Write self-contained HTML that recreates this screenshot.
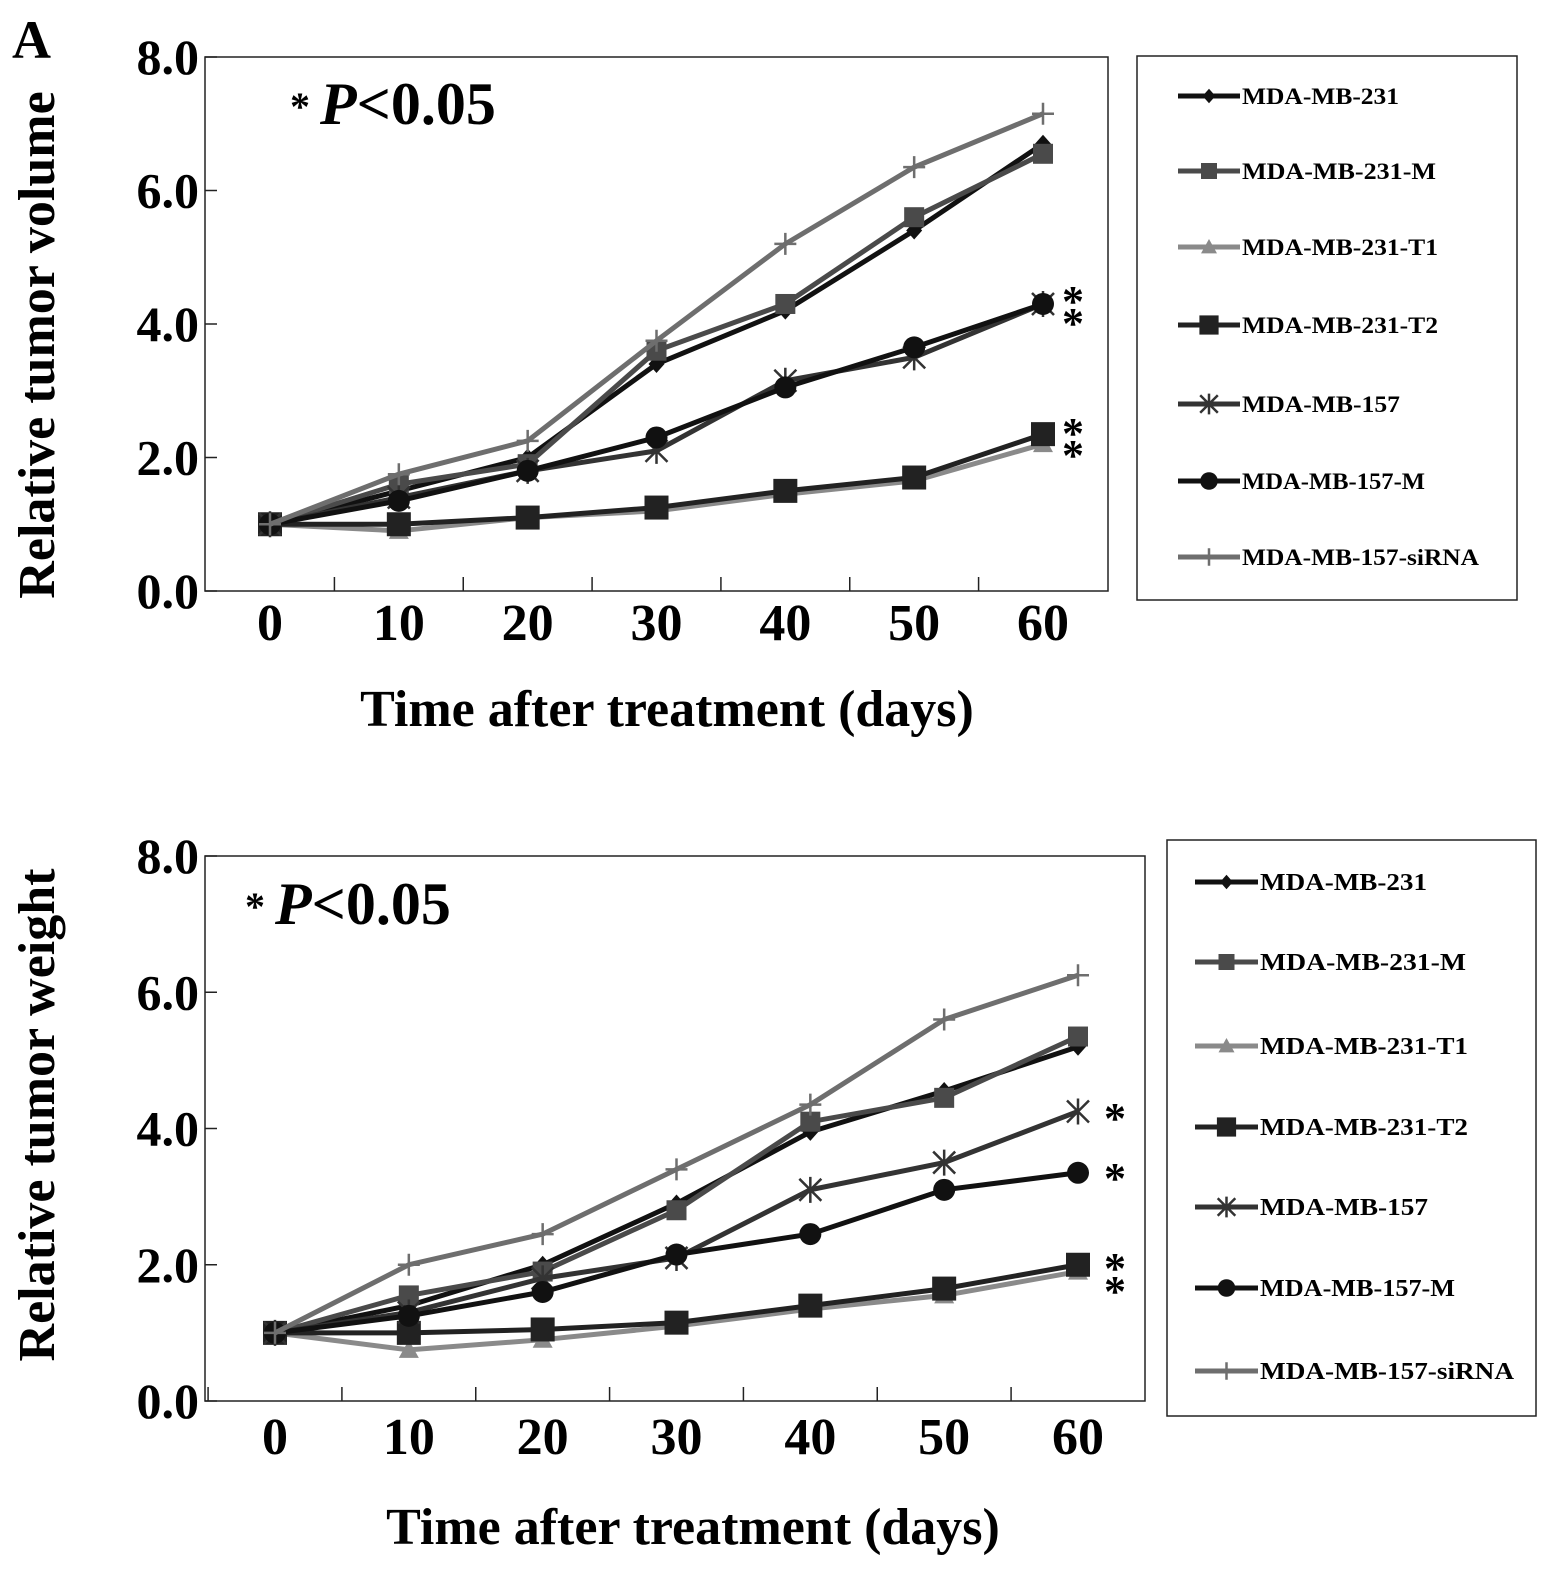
<!DOCTYPE html>
<html><head><meta charset="utf-8"><style>
html,body{margin:0;padding:0;background:#fff;}
svg{display:block;font-family:"Liberation Serif",serif;font-weight:bold;}
</style></head><body>
<svg id="fig" width="1559" height="1576" viewBox="0 0 1559 1576" xmlns="http://www.w3.org/2000/svg">
<rect width="1559" height="1576" fill="#fff"/>
<text x="12" y="58" font-size="54">A</text>
</svg>
<script>
const days = [0,10,20,30,40,50,60];
const seriesNames = ["MDA-MB-231","MDA-MB-231-M","MDA-MB-231-T1","MDA-MB-231-T2","MDA-MB-157","MDA-MB-157-M","MDA-MB-157-siRNA"];
const yTicks = [0,2,4,6,8];
const yTickLabels = ["0.0","2.0","4.0","6.0","8.0"];
const volume231 = [1.0,1.5,2.0,3.4,4.2,5.4,6.7];
const volume231M = [1.0,1.6,1.9,3.6,4.3,5.6,6.55];
const volume231T1 = [1.0,0.9,1.1,1.2,1.45,1.65,2.2];
const volume231T2 = [1.0,1.0,1.1,1.25,1.5,1.7,2.35];
const volume157 = [1.0,1.4,1.8,2.1,3.15,3.5,4.3];
const volume157M = [1.0,1.35,1.8,2.3,3.05,3.65,4.3];
const volume157si = [1.0,1.75,2.25,3.75,5.2,6.35,7.15];
const weight231 = [1.0,1.4,2.0,2.9,3.95,4.55,5.2];
const weight231M = [1.0,1.55,1.9,2.8,4.1,4.45,5.35];
const weight231T1 = [1.0,0.75,0.9,1.1,1.35,1.55,1.9];
const weight231T2 = [1.0,1.0,1.05,1.15,1.4,1.65,2.0];
const weight157 = [1.0,1.3,1.8,2.1,3.1,3.5,4.25];
const weight157M = [1.0,1.25,1.6,2.15,2.45,3.1,3.35];
const weight157si = [1.0,2.0,2.45,3.4,4.35,5.6,6.25];

const NS="http://www.w3.org/2000/svg";
const svg=document.getElementById('fig');
const styles=[
 {c:"#111",m:"diamond",w:5},{c:"#4a4a4a",m:"square",w:5},{c:"#8a8a8a",m:"triangle",w:5},
 {c:"#222",m:"bigsquare",w:5},{c:"#333",m:"star",w:5},{c:"#111",m:"circle",w:5},{c:"#6e6e6e",m:"plus",w:5}];
function mk(tag,attrs,parent){const e=document.createElementNS(NS,tag);for(const k in attrs)e.setAttribute(k,attrs[k]);(parent||svg).appendChild(e);return e;}
function marker(g,type,x,y,c,s){
 s=s||1;let e;
 if(type==="diamond")e=mk('polygon',{points:`${x},${y-9*s} ${x+8*s},${y} ${x},${y+9*s} ${x-8*s},${y}`,fill:c},g);
 else if(type==="square")e=mk('rect',{x:x-10*s,y:y-10*s,width:20*s,height:20*s,fill:c},g);
 else if(type==="bigsquare")e=mk('rect',{x:x-12*s,y:y-12*s,width:24*s,height:24*s,fill:c},g);
 else if(type==="triangle")e=mk('polygon',{points:`${x},${y-10*s} ${x+10*s},${y+8*s} ${x-10*s},${y+8*s}`,fill:c},g);
 else if(type==="circle")e=mk('circle',{cx:x,cy:y,r:11*s,fill:c},g);
 else if(type==="star"){e=mk('path',{d:`M${x-11*s},${y-11*s}L${x+11*s},${y+11*s}M${x+11*s},${y-11*s}L${x-11*s},${y+11*s}M${x},${y-13*s}L${x},${y+13*s}`,stroke:c,'stroke-width':2.5,fill:'none'},g);}
 else {e=mk('path',{d:`M${x-11*s},${y}L${x+11*s},${y}M${x},${y-11*s}L${x},${y+11*s}`,stroke:c,'stroke-width':2.5,fill:'none'},g);}
 return e;
}
function chart(cfg){
 const {L,R,T,B,x0,x60,data,yTitle,xTitleY,xTitleX,pX,pY,stars,leg}=cfg;
 const ys=v=>B-(B-T)*v/8;
 const xs=d=>x0+(x60-x0)*d/60;
 const g=mk('g',{});
 
 
 const frame=mk('rect',{x:L,y:T,width:R-L,height:B-T,fill:'none',stroke:'#222','stroke-width':1.5},g);
 
 const step=(x60-x0)/6;
 for(let i=0;i<7;i++){const tx=x0-step/2+step*i;if(tx>L+2&&tx<R)mk('line',{x1:tx,y1:B,x2:tx,y2:B-14,stroke:'#222','stroke-width':1.5},g);}
 yTicks.forEach((v,i)=>{mk('line',{x1:L,y1:ys(v),x2:L+12,y2:ys(v),stroke:'#222','stroke-width':1.5},g);
  const t=mk('text',{x:L-6,y:ys(v)+17,'font-size':50,'text-anchor':'end'},g);t.textContent=yTickLabels[i];
  });
 days.forEach(d=>{const t=mk('text',{x:xs(d),y:cfg.xLabY,'font-size':52,'text-anchor':'middle'},g);t.textContent=d;
  });
 const xt=mk('text',{x:xTitleX,y:xTitleY,'font-size':52,'text-anchor':'middle'},g);xt.textContent="Time after treatment (days)";
 
 const yt=mk('text',{x:0,y:0,'font-size':52,'text-anchor':'middle',transform:`translate(54,${cfg.yTitleC}) rotate(-90)`,'xml:space':'preserve'},g);yt.textContent=yTitle;
 
 const p=mk('text',{x:pX,y:pY,'font-size':60},g);
 
 const a=mk('tspan',{'font-size':40,dy:-4},p);a.textContent="* ";
 const b=mk('tspan',{'font-style':'italic',dy:4},p);b.textContent="P";
 const c2=mk('tspan',{},p);c2.textContent="<0.05";
 data.forEach((arr,si)=>{const st=styles[si];
  const pts=arr.map((v,i)=>xs(days[i])+','+ys(v)).join(' ');
  const pl=mk('polyline',{points:pts,fill:'none',stroke:st.c,'stroke-width':st.w},g);
  
  arr.forEach((v,i)=>{const m=marker(g,st.m,xs(days[i]),ys(v),st.c);
   });
 });
 stars.forEach(s=>{const t=mk('text',{x:s[0],y:s[1],'font-size':44},g);t.textContent="*";
  });
 const lb=mk('rect',{x:leg.L,y:leg.T,width:leg.R-leg.L,height:leg.B-leg.T,fill:'#fff',stroke:'#222','stroke-width':1.5},g);
 
 seriesNames.forEach((n,i)=>{const st=styles[i];const y=leg.ys[i];
  mk('line',{x1:leg.x1,y1:y,x2:leg.x2,y2:y,stroke:st.c,'stroke-width':5},g);
  marker(g,st.m,(leg.x1+leg.x2)/2,y,st.c,0.8);
  const t=mk('text',{x:leg.x2+2,y:y+8,'font-size':leg.fs,textLength:leg.tl[i],lengthAdjust:'spacingAndGlyphs'},g);t.textContent=n;
  });
}
chart({name:'volume-chart',L:205,R:1108,T:57,B:591,x0:270,x60:1043,xLabY:640,yTitleC:345,
 data:[volume231,volume231M,volume231T1,volume231T2,volume157,volume157M,volume157si],
 yTitle:"Relative tumor volume",xTitleX:667,xTitleY:726,pX:290,pY:124,
 stars:[[1062,316],[1062,338],[1062,448],[1062,470]],
 leg:{L:1137,R:1517,T:56,B:600,x1:1178,x2:1240,fs:23,tl:[157,194,196,196,158,183,237],ys:[96,171,247,325,404,481,557]}});
chart({name:'weight-chart',L:205,R:1145,T:856,B:1401,x0:275,x60:1078,xLabY:1454,yTitleC:1115,
 data:[weight231,weight231M,weight231T1,weight231T2,weight157,weight157M,weight157si],
 yTitle:"Relative tumor  weight",xTitleX:693,xTitleY:1544,pX:245,pY:924,
 stars:[[1104,1133],[1104,1193],[1104,1283],[1104,1306]],
 leg:{L:1167,R:1536,T:840,B:1416,x1:1195,x2:1258,fs:24,tl:[167,206,208,208,168,195,254],ys:[882,962,1046,1127,1207,1288,1371]}});
</script>
</body></html>
